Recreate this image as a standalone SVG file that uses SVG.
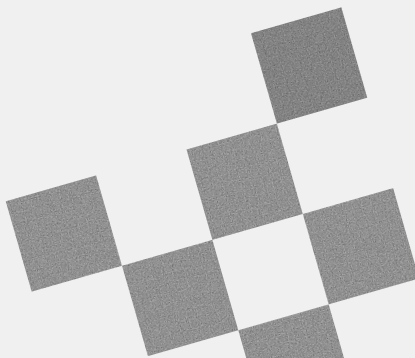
<svg xmlns="http://www.w3.org/2000/svg" width="415" height="358" viewBox="0 0 415 358">
  <defs>
    <style>
      .sq { fill: #aaaaaa; filter: url(#grain); }
      .dark { fill: #9a9a9a; }
    </style>
    <filter id="grain" x="0" y="0" width="100%" height="100%" color-interpolation-filters="sRGB">
      <feTurbulence type="fractalNoise" baseFrequency="0.9" numOctaves="3" seed="7" result="noise"/>
      <feColorMatrix in="noise" type="saturate" values="0" result="gray"/>
      <feComponentTransfer in="gray" result="g2">
        <feFuncR type="linear" slope="0.8" intercept="0.45"/>
        <feFuncG type="linear" slope="0.8" intercept="0.45"/>
        <feFuncB type="linear" slope="0.8" intercept="0.45"/>
        <feFuncA type="linear" slope="0" intercept="1"/>
      </feComponentTransfer>
      <feBlend in="SourceGraphic" in2="g2" mode="multiply" result="b"/>
      <feComposite in="b" in2="SourceGraphic" operator="in"/>
    </filter>
  </defs>
  <rect id="paper" x="0" y="0" width="415" height="358" fill="#f0f0f0"/>
  <g id="board" transform="matrix(0.9617 -0.2755 0.2755 0.9617 186.5 149.5)">
    <rect id="sq-top" class="sq dark" x="94" y="-94" width="94" height="94"/>
    <rect id="sq-middle" class="sq" x="0" y="0" width="94" height="94"/>
    <rect id="sq-right" class="sq" x="94" y="94" width="94" height="94"/>
    <rect id="sq-left" class="sq" x="-188" y="0" width="94" height="94"/>
    <rect id="sq-lower" class="sq" x="-94" y="94" width="94" height="94"/>
    <rect id="sq-bottom" class="sq" x="0" y="188" width="94" height="94"/>
  </g>
</svg>
